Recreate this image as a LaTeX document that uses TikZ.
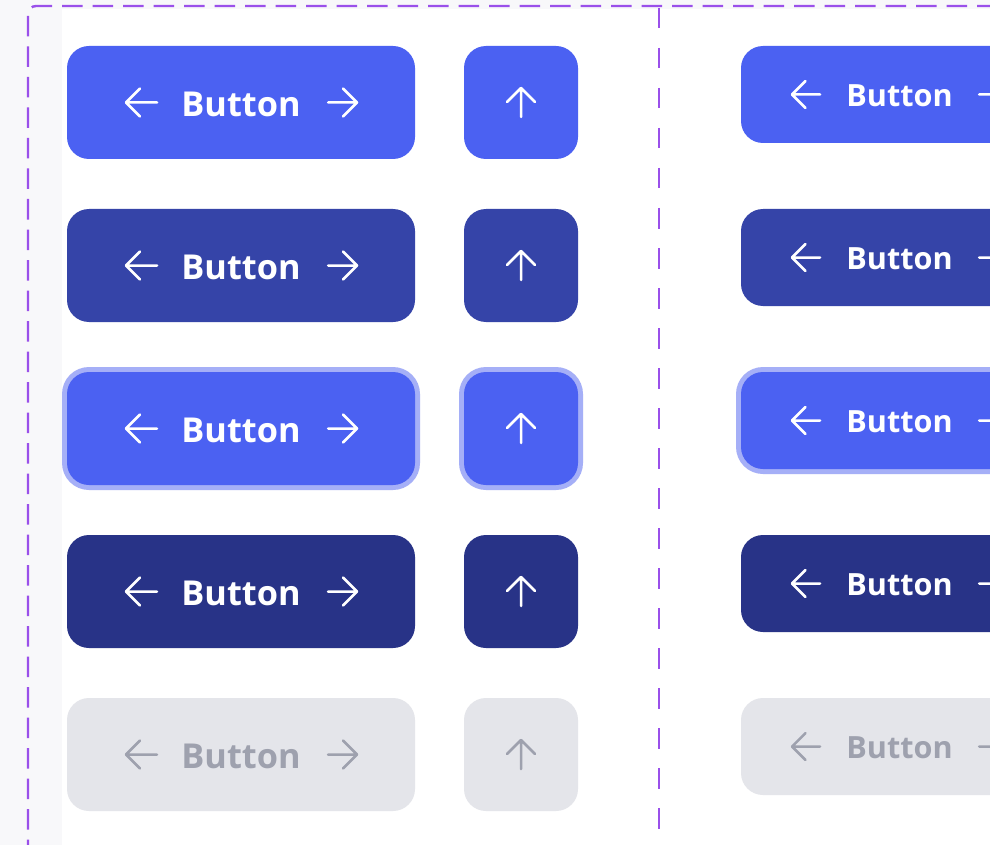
\documentclass[tikz,border=0pt]{standalone}
\usepackage{fontspec}
\setmainfont{Open Sans}
\usetikzlibrary{calc}
\definecolor{pagebg}{HTML}{F8F8FA}
\definecolor{frame}{HTML}{9A50EA}
\definecolor{cprimary}{HTML}{4B61F2}
\definecolor{chover}{HTML}{3544A8}
\definecolor{cpressed}{HTML}{283387}
\definecolor{cring}{HTML}{A5AFF7}
\definecolor{cdisbg}{HTML}{E4E5EA}
\definecolor{cdisfg}{HTML}{9EA1AE}
\tikzset{
  btnbox/.style={rectangle, rounded corners=22pt, inner sep=0pt},
  widebox/.style={btnbox, minimum width=348pt, minimum height=113pt},
  squarebox/.style={btnbox, rounded corners=22pt, minimum width=114pt, minimum height=113pt},
  rightbox/.style={btnbox, minimum width=317pt, minimum height=97pt},
  ringbox/.style={rectangle, rounded corners=27pt, inner sep=0pt, fill=cring},
  icon/.style={line width=2.5pt, line cap=round, line join=round},
  btnlabel/.style={inner sep=0pt, font=\fontsize{34.3}{40}\selectfont\bfseries},
  btnlabelsmall/.style={inner sep=0pt, font=\fontsize{30.6}{36}\selectfont\bfseries},
  framedash/.style={draw=frame, line width=2.4pt, dash pattern=on 20.5pt off 10pt},
  dividerdash/.style={draw=frame, line width=2.4pt, dash pattern=on 20.5pt off 19.5pt},
}
\begin{document}
\begin{tikzpicture}[x=1pt,y=-1pt]
\useasboundingbox (0,0) rectangle (990,845);
\clip (0,0) rectangle (990,845);
\fill[pagebg] (0,0) rectangle (990,845);
\fill[white] (62,9) rectangle (990,845);
% frame
\draw[framedash, rounded corners=8pt] (28,860) -- (28,6) -- (1000,6);
\draw[dividerdash] (659,8) -- (659,860);
% rows
\foreach \i/\bg/\fg/\ring in {0/cprimary/white/0, 1/chover/white/0, 2/cprimary/white/1, 3/cpressed/white/0, 4/cdisbg/cdisfg/0}{
  \pgfmathsetmacro{\yl}{102.5+163*\i}
  \pgfmathsetmacro{\yr}{94.5+163*\i}
  \ifnum\ring=1
    \node[ringbox, minimum width=358pt, minimum height=123pt] (rw\i) at (241,\yl) {};
    \node[ringbox, minimum width=124pt, minimum height=123pt] (rs\i) at (521,\yl) {};
    \node[ringbox, minimum width=327pt, minimum height=107pt] (rr\i) at (899.5,\yr) {};
  \fi
  \node[widebox, fill=\bg] (w\i) at (241,\yl) {};
  \node[squarebox, fill=\bg] (s\i) at (521,\yl) {};
  \node[rightbox, fill=\bg] (r\i) at (899.5,\yr) {};
  % wide button content
  \begin{scope}[shift={(w\i.center)}]
    \node[btnlabel, text=\fg] (tw\i) at (0,1.5) {Button};
    \draw[icon, draw=\fg] (-84,0) -- (-115,0) (-101,-14) -- (-115,0) -- (-101,14);
    \draw[icon, draw=\fg] (87,0) -- (116,0) (102,-14) -- (116,0) -- (102,14);
  \end{scope}
  % square content
  \begin{scope}[shift={(s\i.center)}]
    \draw[icon, draw=\fg] (0,14.5) -- (0,-14.5) (-14,-0.5) -- (0,-14.5) -- (14,-0.5);
  \end{scope}
  % right column content
  \begin{scope}[shift={(r\i.center)}]
    \node[btnlabelsmall, text=\fg] (tr\i) at (0,1.5) {Button};
    \draw[icon, draw=\fg] (-79.5,0) -- (-107.5,0) (-94,-13.5) -- (-107.5,0) -- (-94,13.5);
    \draw[icon, draw=\fg] (79.5,0) -- (107.5,0) (94,-13.5) -- (107.5,0) -- (94,13.5);
  \end{scope}
}
\end{tikzpicture}
\end{document}
